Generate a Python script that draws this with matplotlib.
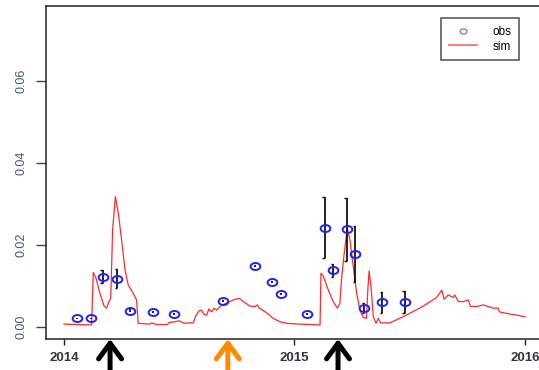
import matplotlib
matplotlib.use("Agg")
import matplotlib.pyplot as plt
import numpy as np
from matplotlib.path import Path
from matplotlib.lines import Line2D

plt.rcParams["font.family"] = ["Liberation Sans", "DejaVu Sans"]

# simulated series (decimal year, value)
sim_t = [2014.000, 2014.120, 2014.127, 2014.139, 2014.156, 2014.174, 2014.185, 2014.195,
         2014.203, 2014.211, 2014.223, 2014.236, 2014.250, 2014.265, 2014.279, 2014.301,
         2014.315, 2014.322, 2014.373, 2014.380, 2014.402, 2014.448, 2014.457, 2014.482,
         2014.500, 2014.521, 2014.539, 2014.561, 2014.573, 2014.587, 2014.597, 2014.607,
         2014.619, 2014.629, 2014.641, 2014.651, 2014.662, 2014.677, 2014.706, 2014.735,
         2014.761, 2014.778, 2014.807, 2014.829, 2014.839, 2014.847, 2014.879, 2014.908,
         2014.937, 2014.966, 2014.993, 2015.024, 2015.111, 2015.115, 2015.125, 2015.147,
         2015.168, 2015.186, 2015.197, 2015.205, 2015.216, 2015.229, 2015.241, 2015.255,
         2015.270, 2015.284, 2015.298, 2015.312, 2015.319, 2015.324, 2015.332, 2015.342,
         2015.354, 2015.364, 2015.374, 2015.414, 2015.472, 2015.559, 2015.617, 2015.639,
         2015.649, 2015.667, 2015.689, 2015.696, 2015.711, 2015.732, 2015.754, 2015.764,
         2015.790, 2015.819, 2015.862, 2015.884, 2015.889, 2015.921, 2015.964, 2016.000]
sim_v = [0.0007, 0.0005, 0.0133, 0.0119, 0.0082, 0.0051, 0.0046, 0.0062,
         0.0070, 0.0237, 0.0318, 0.0277, 0.0212, 0.0139, 0.0102, 0.0082,
         0.0066, 0.0009, 0.0007, 0.0010, 0.0006, 0.0006, 0.0011, 0.0013,
         0.0015, 0.0009, 0.0010, 0.0010, 0.0029, 0.0040, 0.0041, 0.0031,
         0.0029, 0.0044, 0.0037, 0.0046, 0.0041, 0.0050, 0.0059, 0.0066,
         0.0070, 0.0062, 0.0051, 0.0050, 0.0054, 0.0046, 0.0035, 0.0021,
         0.0013, 0.0009, 0.0008, 0.0007, 0.0005, 0.0131, 0.0124, 0.0090,
         0.0062, 0.0046, 0.0058, 0.0123, 0.0180, 0.0241, 0.0212, 0.0147,
         0.0082, 0.0041, 0.0024, 0.0021, 0.0098, 0.0137, 0.0098, 0.0025,
         0.0009, 0.0021, 0.0010, 0.0010, 0.0025, 0.0051, 0.0072, 0.0090,
         0.0068, 0.0078, 0.0072, 0.0078, 0.0062, 0.0062, 0.0066, 0.0050,
         0.0050, 0.0054, 0.0046, 0.0046, 0.0037, 0.0033, 0.0029, 0.0025]

# observations with ranges
obs_t = [2014.055, 2014.116, 2014.169, 2014.231, 2014.286, 2014.385, 2014.477, 2014.691,
         2014.829, 2014.901, 2014.940, 2015.056, 2015.131, 2015.168, 2015.226, 2015.264,
         2015.303, 2015.381, 2015.478]
obs_v = [0.0021, 0.0021, 0.0122, 0.0118, 0.0040, 0.0037, 0.0031, 0.0063,
         0.0148, 0.0110, 0.0081, 0.0032, 0.0242, 0.0139, 0.0238, 0.0178,
         0.0046, 0.0060, 0.0060]
obs_lo = [0.0019, 0.0019, 0.0107, 0.0094, 0.0037, 0.0034, 0.0029, 0.0061,
          0.0146, 0.0107, 0.0078, 0.0030, 0.0169, 0.0122, 0.0161, 0.0110,
          0.0033, 0.0035, 0.0033]
obs_hi = [0.0023, 0.0023, 0.0139, 0.0141, 0.0043, 0.0040, 0.0033, 0.0065,
          0.0150, 0.0113, 0.0084, 0.0034, 0.0316, 0.0154, 0.0314, 0.0246,
          0.0058, 0.0086, 0.0088]

arrow_t = [2014.200, 2014.711, 2015.189]
arrow_c = ["black", "#ff8c00", "black"]

fig = plt.figure(figsize=(5.39, 3.70), dpi=100)
ax = fig.add_axes([46 / 539, 1 - 339 / 370, 502 / 539, 333 / 370])
ax.set_xlim(2013.922, 2016.1)
ax.set_ylim(-0.00293, 0.0783)

# ellipse marker like R's open circle
th = np.linspace(0, 2 * np.pi, 40)
ell = Path(np.column_stack([np.cos(th), 0.72 * np.sin(th)]))

ax.plot(sim_t, sim_v, color="#ff2a2a", lw=0.9, zorder=2)

cap = 0.011
ax.vlines(obs_t, obs_lo, obs_hi, color="black", lw=1.2, zorder=3)
big = [i for i in range(len(obs_t)) if obs_hi[i] - obs_lo[i] > 0.001]
ax.hlines([obs_hi[i] for i in big], [obs_t[i] - cap for i in big], [obs_t[i] for i in big],
          color="black", lw=1.0, zorder=3)
ax.hlines([obs_lo[i] for i in big], [obs_t[i] - cap for i in big], [obs_t[i] for i in big],
          color="black", lw=1.0, zorder=3)
ax.plot(obs_t, obs_v, ls="none", marker=ell, ms=7, mfc="none", mec="#1f1fff",
        mew=1.4, zorder=4)

for t, c in zip(arrow_t, arrow_c):
    ax.annotate("", xy=(t, 0), xycoords=("data", "axes fraction"),
                xytext=(t, -0.2), textcoords=("data", "axes fraction"),
                arrowprops=dict(arrowstyle="->,head_length=0.75,head_width=0.55",
                                color=c, lw=3.6, mutation_scale=15,
                                shrinkA=0, shrinkB=0),
                annotation_clip=False)

ax.set_xticks([2014, 2015, 2016])
ax.set_xticklabels(["2014", "2015", "2016"], fontweight="bold", color="#333340")
ax.set_yticks([0.0, 0.02, 0.04, 0.06])
ax.set_yticklabels(["0.00", "0.02", "0.04", "0.06"], rotation=90, va="center",
                   color="#4a5570")
ax.tick_params(axis="x", length=4.5, width=1.0, pad=5, labelsize=9.5, color="#222")
ax.tick_params(axis="y", length=7, width=1.0, pad=6, labelsize=9, color="#444")
for s in ax.spines.values():
    s.set_color("#333")
    s.set_linewidth(1.2)

h = [Line2D([], [], ls="none", marker=ell, ms=5, mfc="none", mec="#7b7bff", mew=1.0),
     Line2D([], [], color="#ff7070", lw=1.3)]
leg = ax.legend(h, ["obs", "sim"], loc="upper right",
                bbox_to_anchor=(519 / 539, 1 - 18 / 370), bbox_transform=fig.transFigure,
                fontsize=8.5, frameon=True, fancybox=False, borderpad=0.65,
                labelspacing=0.25, handlelength=2.4, handletextpad=1.3,
                borderaxespad=0)
leg.get_frame().set_edgecolor("#333")
leg.get_frame().set_linewidth(1.2)

fig.savefig("out.png", dpi=100)
